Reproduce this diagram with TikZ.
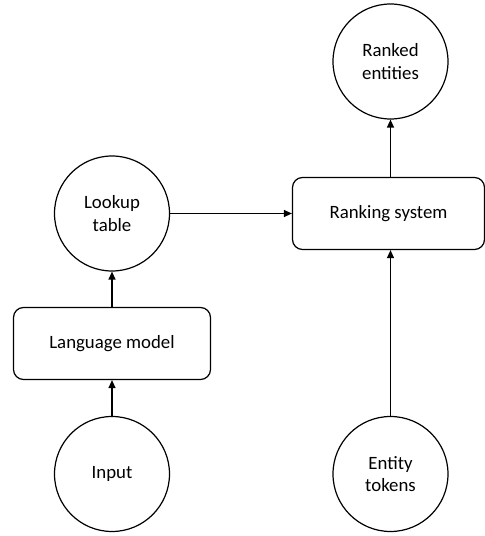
\documentclass[tikz,border=0pt]{standalone}
\usepackage{fontspec}
\setmainfont{Carlito}
\usetikzlibrary{arrows.meta}

\begin{document}
\begin{tikzpicture}[x=1pt, y=1pt, line width=1.2pt,
    every node/.style={font=\fontsize{18.8}{22.5}\selectfont, align=center},
    blob/.style={draw, circle, minimum size=115pt, inner sep=0pt},
    block/.style={draw, rounded corners=10pt, minimum height=72pt, inner sep=0pt},
    flow/.style={-{Triangle[length=8pt, width=7pt]}}]
    \useasboundingbox (0, 0) rectangle (485, 536);

    \node[blob](input) at (112, 62) {Input};
    \node[blob](enttok) at (390.5, 62) {Entity\\tokens};

    \node[block, minimum width=197pt](langmod) at (112, 192.5) {Language model};
    \node[blob](lookup) at (112, 322.5) {Lookup\\table};

    \node[block, minimum width=192pt](ranksys) at (388.5, 322.5) {Ranking system};
    \node[blob](ranked) at (390.5, 474.5) {Ranked\\entities};

    %%%%%%%%%%%%%%%%%%%%%%%%%%%%%%%%%%%%%%%%%%%%%%%%%%%%%%

    \draw[flow] (input) -- (langmod);
    \draw[flow] (langmod) -- (lookup);
    \draw[flow] (lookup) -- (ranksys);
    \draw[flow] (enttok) -- (enttok |- ranksys.south);
    \draw[flow] (ranked |- ranksys.north) -- (ranked);
\end{tikzpicture}
\end{document}
